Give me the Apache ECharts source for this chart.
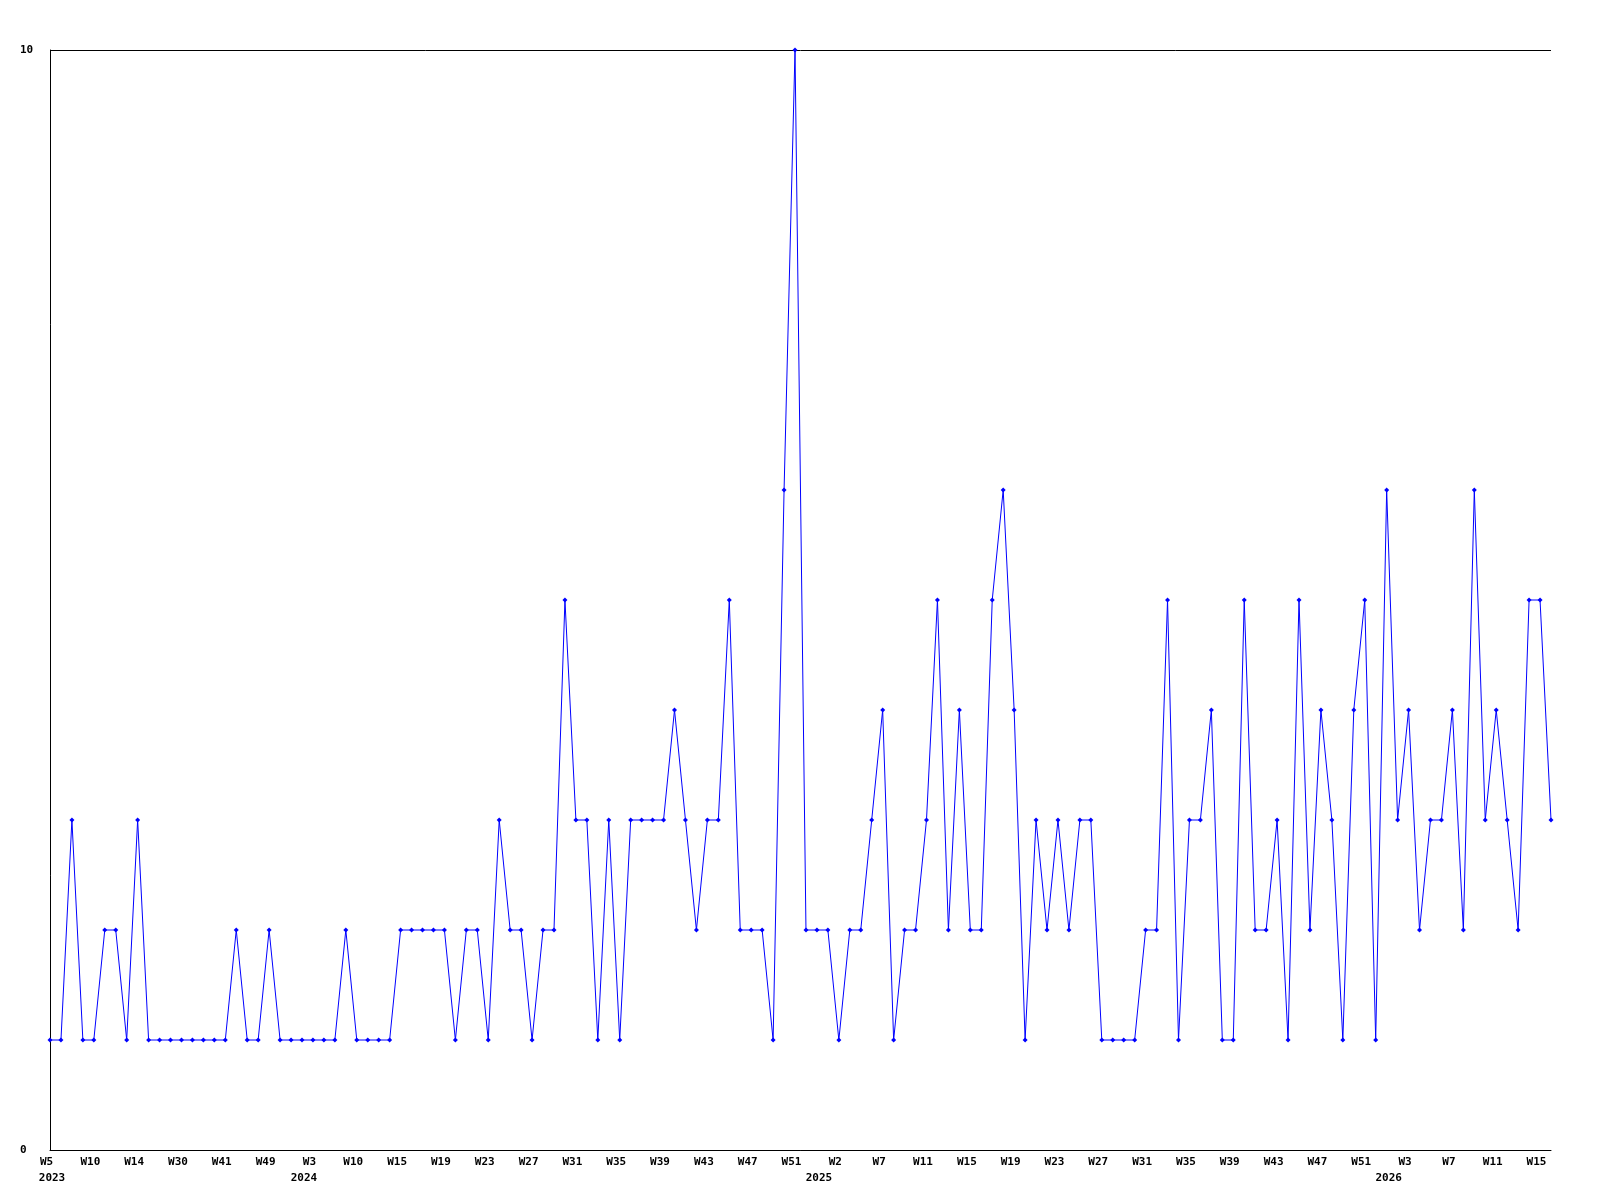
<!DOCTYPE html>
<html>
<head>
<meta charset="utf-8">
<script src="https://cdn.jsdelivr.net/npm/echarts@6/dist/echarts.min.js"></script>
<style>
html,body{margin:0;padding:0;background:#fff;}
#chart{width:1600px;height:1200px;}
</style>
</head>
<body>
<div id="chart"></div>
<script>
const weeks = [
"2023-W5","2023-W6","2023-W8","2023-W9","2023-W10","2023-W11","2023-W12","2023-W13","2023-W14","2023-W17",
"2023-W21","2023-W26","2023-W30","2023-W33","2023-W36","2023-W39","2023-W41","2023-W43","2023-W45","2023-W47",
"2023-W49","2023-W50","2023-W52",
"2024-W1","2024-W3","2024-W5","2024-W7","2024-W8","2024-W10","2024-W11","2024-W12","2024-W13",
"2024-W15","2024-W16","2024-W17","2024-W18","2024-W19","2024-W20","2024-W21","2024-W22","2024-W23","2024-W24",
"2024-W25","2024-W26","2024-W27","2024-W28","2024-W29","2024-W30","2024-W31","2024-W32","2024-W33","2024-W34",
"2024-W35","2024-W36","2024-W37","2024-W38","2024-W39","2024-W40","2024-W41","2024-W42","2024-W43","2024-W44",
"2024-W45","2024-W46","2024-W47","2024-W48","2024-W49","2024-W50","2024-W51","2024-W52",
"2025-W0","2025-W1","2025-W2","2025-W3","2025-W5","2025-W6","2025-W7","2025-W8","2025-W9","2025-W10",
"2025-W11","2025-W12","2025-W13","2025-W14","2025-W15","2025-W16","2025-W17","2025-W18","2025-W19","2025-W20",
"2025-W21","2025-W22","2025-W23","2025-W24","2025-W25","2025-W26","2025-W27","2025-W28","2025-W29","2025-W30",
"2025-W31","2025-W32","2025-W33","2025-W34","2025-W35","2025-W36","2025-W37","2025-W38","2025-W39","2025-W40",
"2025-W41","2025-W42","2025-W43","2025-W44","2025-W45","2025-W46","2025-W47","2025-W48","2025-W49","2025-W50",
"2025-W51","2025-W52",
"2026-W1","2026-W2","2026-W3","2026-W4","2026-W5","2026-W6","2026-W7","2026-W8","2026-W9","2026-W10",
"2026-W11","2026-W12","2026-W13","2026-W14","2026-W15","2026-W16"
];

const counts = [
1,1,3,1,1,2,2,1,3,1,
1,1,1,1,1,1,1,2,1,1,
2,1,1,1,1,1,1,2,1,1,
1,1,2,2,2,2,2,1,2,2,
1,3,2,2,1,2,2,5,3,3,
1,3,1,3,3,3,3,4,3,2,
3,3,5,2,2,2,1,6,10,2,
2,2,1,2,2,3,4,1,2,2,
3,5,2,4,2,2,5,6,4,1,
3,2,3,2,3,3,1,1,1,1,
2,2,5,1,3,3,4,1,1,5,
2,2,3,1,5,2,4,3,1,4,
5,1,6,3,4,2,3,3,4,2,
6,3,4,3,2,5,5,3
];

const yTicks = [0, 10];

const yearOf = s => s.split('-')[0];
const weekOf = s => s.split('-')[1];

const FONT = 'DejaVu Sans Mono';
const chart = echarts.init(document.getElementById('chart'), null, {renderer: 'canvas'});
chart.setOption({
  animation: false,
  backgroundColor: '#ffffff',
  grid: {left: 50, right: 49, top: 50, bottom: 50, containLabel: false},
  xAxis: [
    {
      type: 'category',
      data: weeks,
      boundaryGap: false,
      axisLine: {show: true, lineStyle: {color: '#000', width: 1}},
      axisTick: {show: false},
      splitLine: {show: false},
      axisLabel: {
        interval: 3,
        margin: 7,
        padding: [0, 7, 0, 0],
        color: '#000',
        fontFamily: FONT,
        fontWeight: 'bold',
        fontSize: 11,
        formatter: v => weekOf(v)
      }
    },
    {
      type: 'category',
      data: weeks,
      boundaryGap: false,
      position: 'bottom',
      offset: 15,
      axisLine: {show: false},
      axisTick: {show: false},
      splitLine: {show: false},
      axisLabel: {
        interval: (i, v) => i === 0 || yearOf(weeks[i - 1]) !== yearOf(v),
        margin: 8,
        padding: [0, 0, 0, 4],
        color: '#000',
        fontFamily: FONT,
        fontWeight: 'bold',
        fontSize: 11,
        formatter: v => yearOf(v)
      }
    }
  ],
  yAxis: {
    type: 'value',
    min: yTicks[0],
    max: yTicks[yTicks.length - 1],
    interval: 10,
    axisLine: {show: true, lineStyle: {color: '#000', width: 1}},
    axisTick: {show: false},
    splitLine: {show: true, lineStyle: {color: '#000', width: 1}},
    axisLabel: {
      align: 'left',
      margin: 30,
      color: '#000',
      fontFamily: FONT,
      fontWeight: 'bold',
      fontSize: 11
    }
  },
  series: [{
    type: 'line',
    data: counts,
    xAxisIndex: 0,
    showAllSymbol: true,
    symbol: 'diamond',
    symbolSize: 5,
    lineStyle: {color: '#0000ff', width: 1},
    itemStyle: {color: '#0000ff'},
    emphasis: {disabled: true}
  }]
});
</script>
</body>
</html>
